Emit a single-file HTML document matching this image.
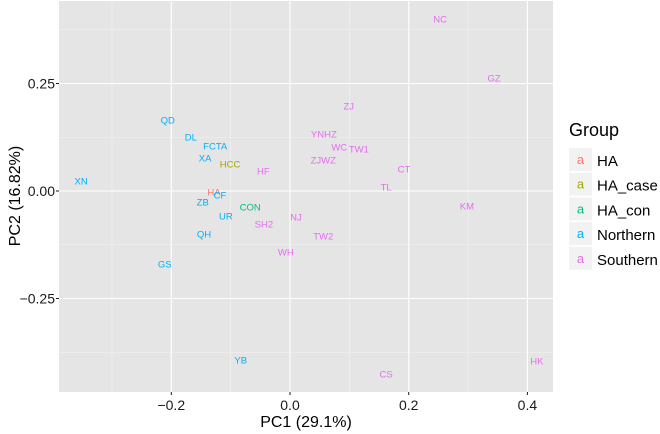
<!DOCTYPE html>
<html><head><meta charset="utf-8"><style>
body{margin:0;background:#fff;font-family:"Liberation Sans",sans-serif;}
svg{display:block}
</style></head><body>
<svg id="chart" width="660" height="434">
<rect x="59" y="1" width="494" height="391" fill="#e5e5e5"/>
<g id="grid"></g><g id="pts"></g><g id="axes"></g>
<text x="306" y="427" font-size="16" text-anchor="middle">PC1 (29.1%)</text>
<text transform="translate(20,196) rotate(-90)" font-size="16" text-anchor="middle">PC2 (16.82%)</text>
<text x="569" y="136" font-size="18">Group</text>
<g id="legend"></g>
</svg>
<script>
const labels=["NC","GZ","ZJ","YNHZ","WC","TW1","ZJWZ","CT","TL","KM","NJ","TW2","SH2","WH","HF","HCC","CON","HA","CF","ZB","UR","QH","GS","XN","QD","DL","FCTA","XA","YB","CS","HK"];
const pc1=[0.253,0.344,0.099,0.057,0.083,0.116,0.056,0.192,0.162,0.298,0.010,0.056,-0.044,-0.007,-0.045,-0.101,-0.067,-0.128,-0.118,-0.147,-0.108,-0.145,-0.211,-0.352,-0.206,-0.167,-0.126,-0.143,-0.083,0.162,0.416];
const pc2=[0.40,0.263,0.198,0.133,0.102,0.098,0.072,0.051,0.009,-0.035,-0.060,-0.105,-0.077,-0.142,0.047,0.063,-0.037,-0.002,-0.009,-0.026,-0.058,-0.100,-0.170,0.023,0.165,0.126,0.105,0.077,-0.393,-0.426,-0.395];
const groups=["Southern","Southern","Southern","Southern","Southern","Southern","Southern","Southern","Southern","Southern","Southern","Southern","Southern","Southern","Southern","HA_case","HA_con","HA","Northern","Northern","Northern","Northern","Northern","Northern","Northern","Northern","Northern","Northern","Northern","Southern","Southern"];
const groupNames=["HA","HA_case","HA_con","Northern","Southern"];
const groupColors=["#F8766D","#A3A500","#00BF7D","#00B0F6","#E76BF3"];
const xTicks=[-0.2,0.0,0.2,0.4];
const xTickLabels=["−0.2","0.0","0.2","0.4"];
const yTicks=[0.25,0,-0.25];
const yTickLabels=["0.25","0.00","−0.25"];
const xMinor=[-0.3,-0.1,0.1,0.3];
const yMinor=[0.375,0.125,-0.125,-0.375];
const X=v=>290+v*593.5, Y=v=>191-v*430;
const NS="http://www.w3.org/2000/svg";
function mk(tag,attrs,parent,text){const e=document.createElementNS(NS,tag);for(const k in attrs)e.setAttribute(k,attrs[k]);if(text!==undefined)e.textContent=text;parent.appendChild(e);return e;}
const grid=document.getElementById('grid'),axes=document.getElementById('axes'),pts=document.getElementById('pts'),leg=document.getElementById('legend');
xMinor.forEach(v=>{const l=mk('line',{x1:X(v),x2:X(v),y1:1,y2:392,stroke:'#f2f2f2','stroke-width':0.6},grid);

});
yMinor.forEach(v=>{const l=mk('line',{x1:59,x2:553,y1:Y(v),y2:Y(v),stroke:'#f2f2f2','stroke-width':0.6},grid);

});
xTicks.forEach((v,i)=>{const l=mk('line',{x1:X(v),x2:X(v),y1:1,y2:392,stroke:'#fff','stroke-width':1.1},grid);


mk('line',{x1:X(v),x2:X(v),y1:392,y2:395,stroke:'#1a1a1a'},axes);
const t=mk('text',{x:X(v),y:410,'font-size':14,'text-anchor':'middle',fill:'#1a1a1a'},axes,xTickLabels[i]);

});
yTicks.forEach((v,i)=>{const l=mk('line',{x1:59,x2:553,y1:Y(v),y2:Y(v),stroke:'#fff','stroke-width':1.1},grid);


mk('line',{x1:56,x2:59,y1:Y(v),y2:Y(v),stroke:'#1a1a1a'},axes);
const t=mk('text',{x:55,y:Y(v)+5,'font-size':14,'text-anchor':'end',fill:'#1a1a1a'},axes,yTickLabels[i]);

});
labels.forEach((s,i)=>{const c=groupColors[groupNames.indexOf(groups[i])];
const t=mk('text',{x:X(pc1[i]),y:Y(pc2[i])+3.5,'font-size':9.5,'text-anchor':'middle',fill:c},pts,s);

});
groupNames.forEach((g,i)=>{const y=148+i*24.7;
const r=mk('rect',{x:569,y:y,width:23,height:23,fill:'#f2f2f2'},leg);


mk('text',{x:580.5,y:y+16,'font-size':13,'text-anchor':'middle',fill:groupColors[i]},leg,'a');
const t=mk('text',{x:597,y:y+18,'font-size':15},leg,g);

});
</script>
</body></html>
